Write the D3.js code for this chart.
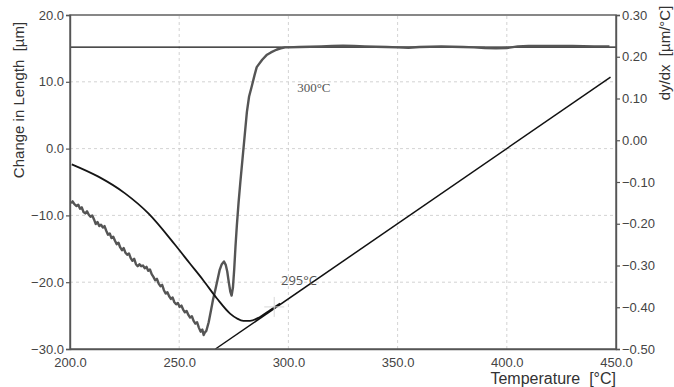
<!DOCTYPE html>
<html>
<head>
<meta charset="utf-8">
<script src="https://cdn.jsdelivr.net/npm/d3@7"></script>
<style>
  body { margin: 0; background: #fff; }
  svg text { font-family: "Liberation Sans", Arial, sans-serif; white-space: pre; }
</style>
</head>
<body>
<div id="chart"></div>
<script>
// measured length change (grey, noisy) [temperature, µm]
const lengthData = [
  [200.5,-8.2],[201.2,-7.9],[202,-8.3],[203,-8.6],[203.8,-8.4],[204.6,-9.0],[205.4,-8.8],[206.2,-9.5],
  [207,-9.7],[207.8,-9.4],[208.6,-9.9],[209.4,-10.2],[210.2,-10.0],[211,-10.6],[211.8,-11.3],[212.6,-11.0],
  [213.4,-11.6],[214.2,-11.4],[215,-11.8],[215.8,-11.6],[216.6,-12.3],[217.4,-12.9],[218.2,-12.7],
  [219,-13.4],[219.8,-13.2],[220.6,-13.8],[221.4,-14.3],[222.2,-14.1],[223,-14.8],[223.8,-15.2],
  [224.6,-14.9],[225.4,-15.6],[226.2,-15.9],[227,-15.7],[227.8,-16.4],[228.6,-16.8],[229.4,-16.5],
  [230.2,-17.3],[231,-17.6],[231.8,-17.3],[232.6,-17.6],[233.4,-17.5],[234.2,-17.9],[235,-17.7],
  [235.8,-18.3],[236.6,-18.1],[237.4,-18.8],[238.2,-19.2],[239,-19.7],[239.8,-19.5],[240.6,-20.2],
  [241.4,-20.6],[242.2,-20.4],[243,-21.2],[243.8,-21.7],[244.6,-21.5],[245.4,-22.1],[246.2,-22.5],
  [247,-22.3],[247.8,-23.0],[248.6,-23.3],[249.4,-23.1],[250.2,-23.7],[251,-23.5],[251.8,-24.1],
  [252.6,-24.5],[253.4,-24.3],[254.2,-24.9],[255,-25.3],[255.8,-25.1],[256.6,-25.8],[257.4,-26.2],
  [258.2,-26.0],[259,-26.8],[259.8,-27.4],[260.6,-27.1],[261.2,-27.9],[261.8,-27.5],[262.4,-27.3],
  [263,-26.6],[263.5,-26.0],[264.5,-24.3],[265.5,-22.6],[266.5,-21.2],
  [267.5,-19.7],[268.5,-18.2],[269.5,-17.3],[270.5,-16.9],[271.3,-17.4],[272,-18.4],[272.7,-20.0],
  [273.4,-21.4],[274,-22.0],[274.6,-20.8],[275.2,-18.0],[275.8,-14.5],[276.4,-11.5],[277.2,-8.0],
  [278,-5.0],[279,-1.5],[280,2.0],[281,5.5],[282,7.8],[283.2,9.3],[284.5,11.0],[285.5,12.2],[288,13.3],
  [290,14.0],[292,14.4],[294.5,14.8],[296.5,15.0],[298.5,15.15],[300,15.15],[305,15.2],[310,15.25],
  [315,15.3],[320,15.35],[325,15.4],[330,15.35],[335,15.3],[340,15.25],[345,15.2],[350,15.15],[355,15.1],
  [360,15.2],[365,15.25],[370,15.3],[375,15.25],[380,15.2],[385,15.15],[390,15.05],[395,15.0],
  [400,15.05],[405,15.3],[410,15.35],[420,15.35],[430,15.35],[440,15.3],[447,15.3]
];

// smoothed curve (black)
const smoothData = [
  [200.8,-2.35],[213,-4.2],[225.2,-6.7],[235.9,-9.7],[248.1,-14.4],[254.9,-17.2],[261,-19.7],
  [267.2,-22.4],[273.3,-24.7],[276.3,-25.4],[279.4,-25.8],[282.4,-25.8],[287,-25.2],
  [291.6,-24.2],[296.2,-23.2]
];

// tangent line and final level
const tangentLine = [[266.6,-30],[447.5,10.7]];
const plateauLine = [[200,15.2],[450,15.2]];

const xTicks = [200,250,300,350,400,450];
const yTicks = [-30,-20,-10,0,10,20];
const y2Ticks = [-0.5,-0.4,-0.3,-0.2,-0.1,0,0.1,0.2,0.3];

const annotations = [
  {t: 304, v: 8.5, text: "300°C", serif: true},
  {t: 296.6, v: -20.4, text: "295°C", serif: false}
];

const width = 674, height = 387;
const margin = {top: 15, right: 58, bottom: 38, left: 70};

const svg = d3.select("#chart").append("svg")
  .attr("width", width)
  .attr("height", height);

const x = d3.scaleLinear().domain([200, 450]).range([margin.left, width - margin.right]);
const y = d3.scaleLinear().domain([-30, 20]).range([height - margin.bottom, margin.top]);
const y2 = d3.scaleLinear().domain([-0.5, 0.3]).range([height - margin.bottom, margin.top]);

// grid
const grid = svg.append("g")
  .attr("stroke", "#c8c8c8")
  .attr("stroke-dasharray", "3,3")
  .attr("stroke-width", 0.8);
grid.selectAll("line.v")
  .data(xTicks.slice(1, -1))
  .enter().append("line")
  .attr("x1", d => x(d)).attr("x2", d => x(d))
  .attr("y1", y(-30)).attr("y2", y(20));
grid.selectAll("line.h")
  .data(yTicks.slice(1, -1))
  .enter().append("line")
  .attr("x1", x(200)).attr("x2", x(450))
  .attr("y1", d => y(d)).attr("y2", d => y(d));

const line = d3.line().x(d => x(d[0])).y(d => y(d[1]));
const smoothLine = d3.line().x(d => x(d[0])).y(d => y(d[1])).curve(d3.curveMonotoneX);

// plateau level
svg.append("path")
  .datum(plateauLine)
  .attr("d", line)
  .attr("fill", "none")
  .attr("stroke", "#111")
  .attr("stroke-width", 1.2);

// measured curve
svg.append("path")
  .datum(lengthData)
  .attr("d", line)
  .attr("fill", "none")
  .attr("stroke", "#555")
  .attr("stroke-width", 2.4)
  .attr("stroke-linejoin", "round");

// smoothed curve
svg.append("path")
  .datum(smoothData)
  .attr("d", smoothLine)
  .attr("fill", "none")
  .attr("stroke", "#151515")
  .attr("stroke-width", 1.8);

// tangent
svg.append("path")
  .datum(tangentLine)
  .attr("d", line)
  .attr("fill", "none")
  .attr("stroke", "#111")
  .attr("stroke-width", 1.5);

// faint crosshair at tangent point
const cross = svg.append("g").attr("stroke", "#d8d8d8").attr("stroke-width", 1);
cross.append("line").attr("x1", x(293.5) - 10).attr("x2", x(293.5) + 10).attr("y1", y(-23.7)).attr("y2", y(-23.7));
cross.append("line").attr("x1", x(293.5)).attr("x2", x(293.5)).attr("y1", y(-23.7) - 10).attr("y2", y(-23.7) + 10);

// frame
svg.append("rect")
  .attr("x", x(200)).attr("y", y(20))
  .attr("width", x(450) - x(200)).attr("height", y(-30) - y(20))
  .attr("fill", "none")
  .attr("stroke", "#555")
  .attr("stroke-width", 1.4);

// axes
const fmt1 = d3.format(".1f");
const xAxis = svg.append("g")
  .attr("transform", `translate(0,${y(-30)})`)
  .call(d3.axisBottom(x).tickValues(xTicks).tickFormat(fmt1).tickSize(0).tickPadding(9));
const yAxis = svg.append("g")
  .attr("transform", `translate(${x(200)},0)`)
  .call(d3.axisLeft(y).tickValues(yTicks).tickFormat(fmt1).tickSize(4).tickPadding(2));
const y2Axis = svg.append("g")
  .attr("transform", `translate(${x(450)},0)`)
  .call(d3.axisRight(y2).tickValues(y2Ticks).tickFormat(d3.format(".2f")).tickSize(4).tickPadding(2));

[xAxis, yAxis, y2Axis].forEach(a => {
  a.select(".domain").attr("stroke", "#555").attr("stroke-width", 1.4);
  a.selectAll(".tick line").attr("stroke", "#555").attr("stroke-width", 1.2);
  a.selectAll(".tick text")
    .attr("fill", "#444")
    .style("font-size", "13px");
});

// annotations
svg.selectAll("text.note")
  .data(annotations)
  .enter().append("text")
  .attr("class", "note")
  .attr("x", d => x(d.t))
  .attr("y", d => y(d.v))
  .attr("fill", "#555")
  .style("font-size", "13px")
  .style("font-family", d => d.serif ? "'Liberation Serif', 'Times New Roman', serif" : "'Open Sans', 'Liberation Sans', sans-serif")
  .text(d => d.text);

// axis titles
svg.append("text")
  .attr("transform", `translate(24,${margin.top + 85}) rotate(-90)`)
  .attr("text-anchor", "middle")
  .attr("fill", "#333")
  .style("font-size", "15px")
  .text("Change in Length  [µm]");

svg.append("text")
  .attr("transform", `translate(670,${margin.top + 38}) rotate(-90)`)
  .attr("text-anchor", "middle")
  .attr("fill", "#333")
  .style("font-size", "15px")
  .text("dy/dx  [µm/°C]");

svg.append("text")
  .attr("x", x(450))
  .attr("y", 384)
  .attr("text-anchor", "end")
  .attr("fill", "#333")
  .style("font-size", "16px")
  .text("Temperature  [°C]");
</script>
</body>
</html>
